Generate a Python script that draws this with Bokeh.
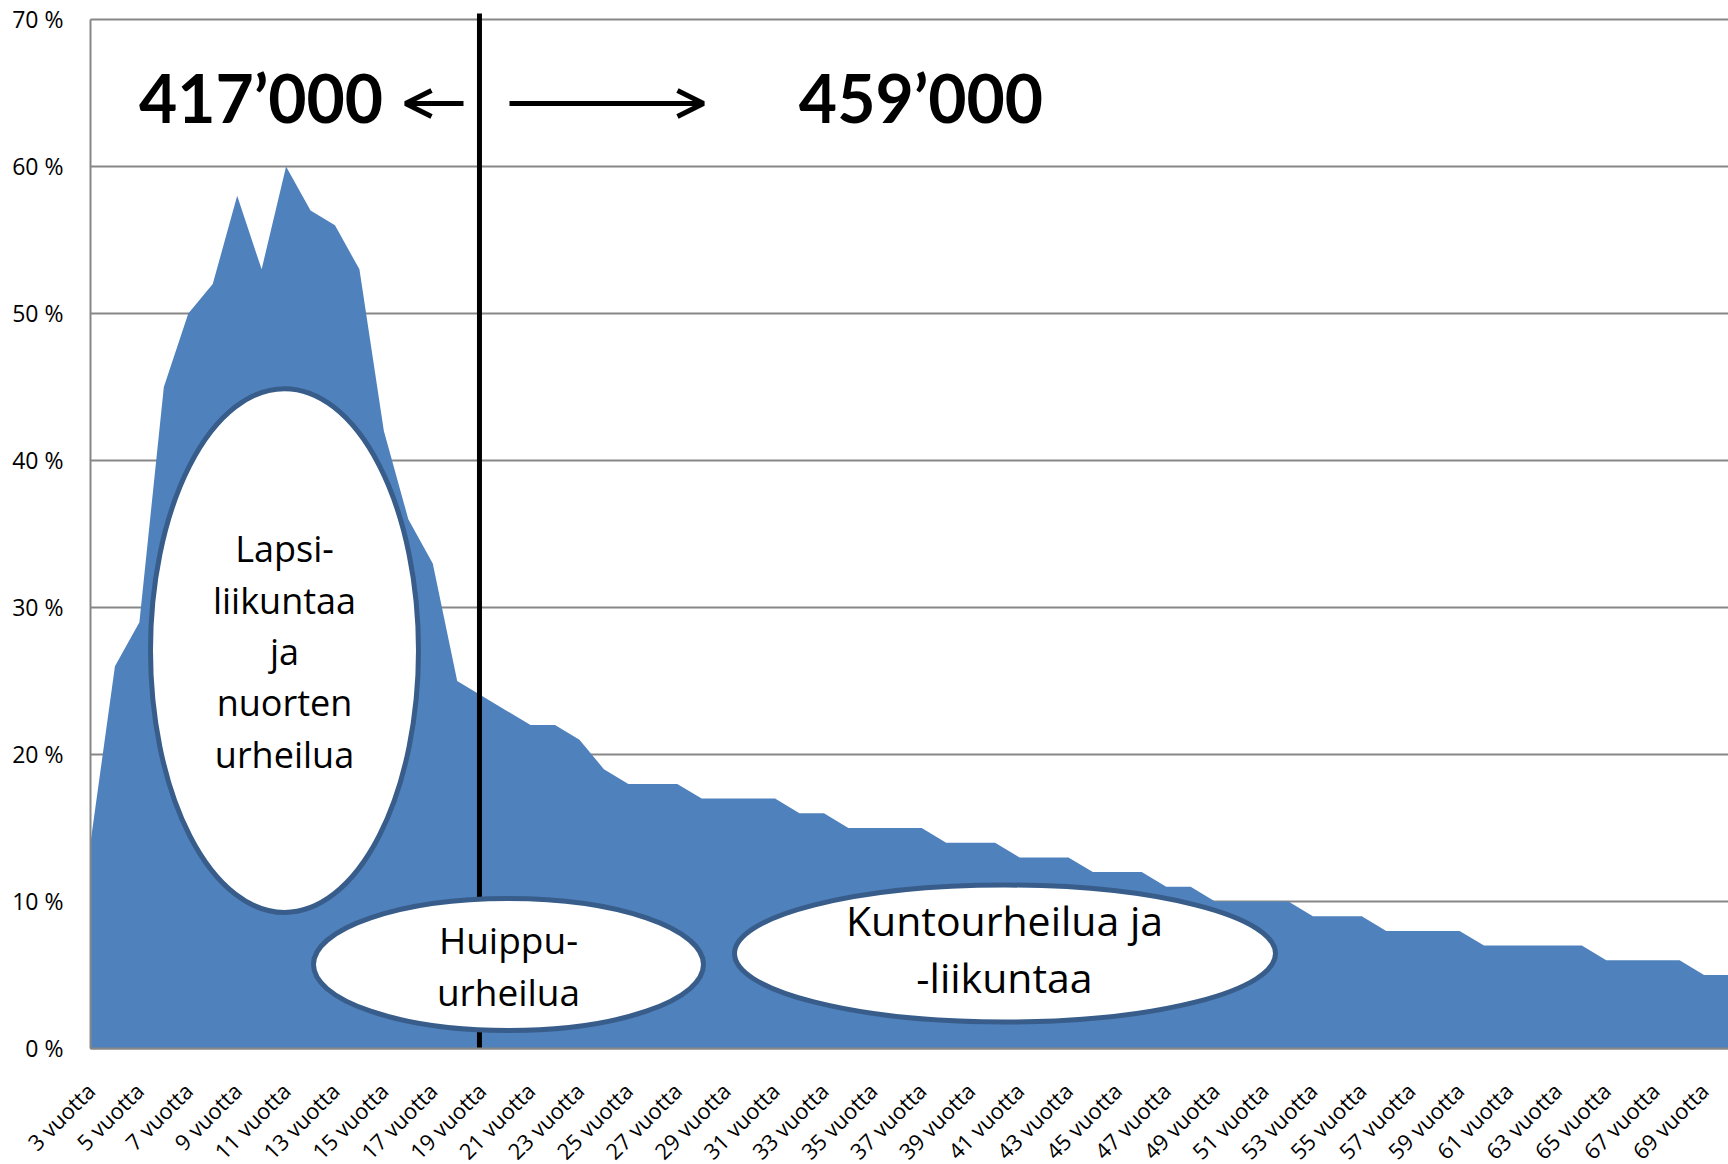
import math
from bokeh.plotting import figure
from bokeh.models import FixedTicker, Range1d, Label, Arrow, OpenHead
from bokeh.embed import file_html
from bokeh.resources import INLINE

# ---------------- data ----------------
ages = [3, 4, 5, 6, 7, 8, 9, 10, 11, 12,
        13, 14, 15, 16, 17, 18, 19, 20, 21, 22,
        23, 24, 25, 26, 27, 28, 29, 30, 31, 32,
        33, 34, 35, 36, 37, 38, 39, 40, 41, 42,
        43, 44, 45, 46, 47, 48, 49, 50, 51, 52,
        53, 54, 55, 56, 57, 58, 59, 60, 61, 62,
        63, 64, 65, 66, 67, 68, 69, 70]
share_pct = [14, 26, 29, 45, 50, 52, 58, 53, 60, 57,
             56, 53, 42, 36, 33, 25, 24, 23, 22, 22,
             21, 19, 18, 18, 18, 17, 17, 17, 17, 16,
             16, 15, 15, 15, 15, 14, 14, 14, 13, 13,
             13, 12, 12, 12, 11, 11, 10, 10, 10, 10,
             9, 9, 9, 8, 8, 8, 8, 7, 7, 7,
             7, 7, 6, 6, 6, 6, 5, 5]
x_tick_ages = [3, 5, 7, 9, 11, 13, 15, 17, 19, 21, 23, 25, 27, 29, 31, 33, 35,
               37, 39, 41, 43, 45, 47, 49, 51, 53, 55, 57, 59, 61, 63, 65, 67, 69]
x_tick_labels = ["3 vuotta", "5 vuotta", "7 vuotta", "9 vuotta", "11 vuotta",
                 "13 vuotta", "15 vuotta", "17 vuotta", "19 vuotta", "21 vuotta",
                 "23 vuotta", "25 vuotta", "27 vuotta", "29 vuotta", "31 vuotta",
                 "33 vuotta", "35 vuotta", "37 vuotta", "39 vuotta", "41 vuotta",
                 "43 vuotta", "45 vuotta", "47 vuotta", "49 vuotta", "51 vuotta",
                 "53 vuotta", "55 vuotta", "57 vuotta", "59 vuotta", "61 vuotta",
                 "63 vuotta", "65 vuotta", "67 vuotta", "69 vuotta"]
y_ticks = [0, 10, 20, 30, 40, 50, 60, 70]
y_tick_labels = ["0 %", "10 %", "20 %", "30 %", "40 %", "50 %", "60 %", "70 %"]

left_total = "417’000"
right_total = "459’000"
ellipse_labels = {
    "lapsi": ["Lapsi-", "liikuntaa", "ja", "nuorten", "urheilua"],
    "huippu": ["Huippu-", "urheilua"],
    "kunto": ["Kuntourheilua ja", "-liikuntaa"],
}
divider_age = 18.91

# ---------------- figure ----------------
# The frame covers the whole page; both axes are pinned (fixed_location) at
# the data origin so that their tick labels are drawn inside it, unclipped.
AGE_MIN, AGE_MAX = ages[0], ages[-1]
X_START = -0.6813
Y_TOP = 71.29
Y_BOTTOM = -7.891
DIVIDER_TOP = 70.41
p = figure(width=1728, height=1164, output_backend="svg", toolbar_location=None,
           x_range=Range1d(X_START, AGE_MAX), y_range=Range1d(Y_BOTTOM, Y_TOP),
           min_border_left=0, min_border_right=0, min_border_top=0,
           min_border_bottom=0)
p.outline_line_color = None
p.background_fill_color = "white"
p.border_fill_color = "white"
p.xgrid.visible = False
p.ygrid.visible = False

GRID = "#878787"
p.yaxis.ticker = FixedTicker(ticks=y_ticks)
p.yaxis.major_label_overrides = {t: l for t, l in zip(y_ticks, y_tick_labels)}
p.yaxis.bounds = (y_ticks[0], y_ticks[-1])
p.yaxis.fixed_location = AGE_MIN
p.xaxis.ticker = FixedTicker(ticks=x_tick_ages)
p.xaxis.major_label_overrides = {t: l for t, l in zip(x_tick_ages, x_tick_labels)}
p.xaxis.major_label_orientation = math.pi / 4
p.xaxis.bounds = (AGE_MIN, AGE_MAX)
p.xaxis.fixed_location = 0
for ax in (p.xaxis, p.yaxis):
    ax.axis_line_color = GRID
    ax.axis_line_width = 2
    ax.major_tick_line_color = None
    ax.minor_tick_line_color = None
    ax.major_tick_out = 0
    ax.major_tick_in = 0
    ax.major_label_text_font = "Open Sans"
    ax.major_label_text_color = "#000000"
p.yaxis.major_label_text_font_size = "23px"
p.yaxis.major_label_standoff = 27
p.xaxis.major_label_text_font_size = "22px"
p.xaxis.major_label_standoff = 38

# horizontal gridlines (plot area only)
p.segment(x0=[AGE_MIN] * len(y_ticks), x1=[AGE_MAX] * len(y_ticks),
          y0=y_ticks, y1=y_ticks, line_color=GRID, line_width=2)

# area
p.varea(x=ages, y1=0, y2=share_pct, fill_color="#4F81BD")

# divider line
p.segment(x0=[divider_age], y0=[0], x1=[divider_age], y1=[DIVIDER_TOP],
          line_color="black", line_width=5)

# ellipses
OUT = "#385D8A"
p.ellipse(x=[10.935], y=[27.07], width=[268], height=[524],
          width_units="screen", height_units="screen",
          fill_color="white", line_color=OUT, line_width=5)
p.ellipse(x=[20.097], y=[5.71], width=[390], height=[132],
          width_units="screen", height_units="screen",
          fill_color="white", line_color=OUT, line_width=5)
p.ellipse(x=[40.406], y=[6.46], width=[541], height=[137],
          width_units="screen", height_units="screen",
          fill_color="white", line_color=OUT, line_width=5)

def add_lines(lines, x, baselines, size):
    for t, yb in zip(lines, baselines):
        p.add_layout(Label(x=x, y=yb, text=t, text_align="center",
                           text_baseline="alphabetic", text_font="Open Sans",
                           text_font_size=size, text_color="black"))

add_lines(ellipse_labels["lapsi"], 10.935, [34.02, 30.48, 27.01, 23.55, 20.01], "36px")
add_lines(ellipse_labels["huippu"], 20.097, [7.42, 3.91], "37px")
add_lines(ellipse_labels["kunto"], 40.385, [8.74, 4.86], "41px")

# totals
for t, x in ((left_total, 9.974), (right_total, 36.97)):
    p.add_layout(Label(x=x, y=64.68, text=t, text_align="center",
                       text_baseline="alphabetic", text_font="Lato",
                       text_font_style="bold", text_font_size="66px",
                       text_color="black"))

# arrows
for x0, x1 in ((18.257, 15.885), (20.138, 28.073)):
    p.add_layout(Arrow(x_start=x0, y_start=64.29, x_end=x1, y_end=64.29,
                       line_color="black", line_width=5,
                       end=OpenHead(size=26, line_color="black", line_width=5)))

open("out.html", "w").write(file_html(p, INLINE))
